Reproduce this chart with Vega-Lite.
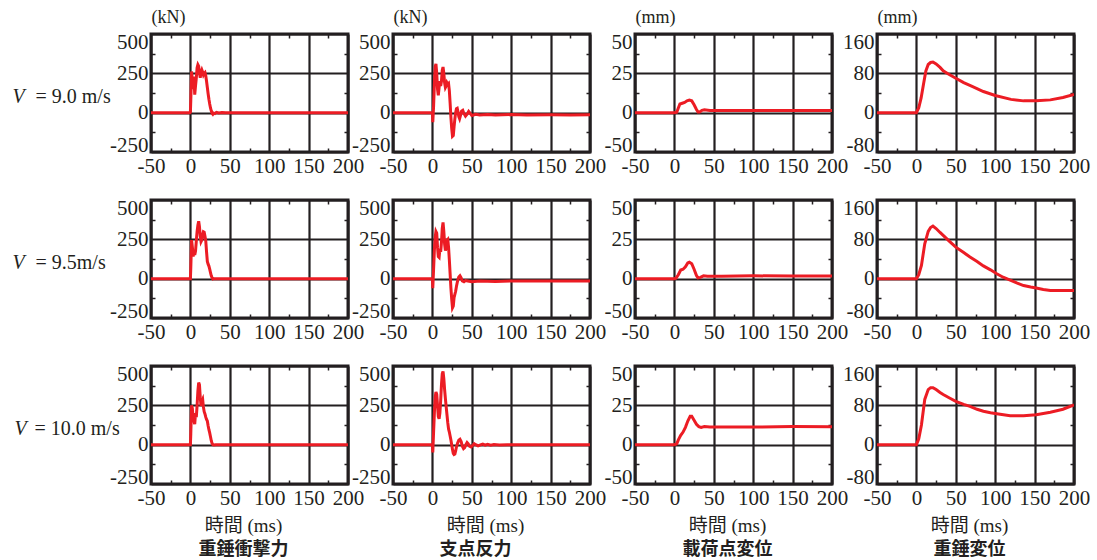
{
  "$schema": "https://vega.github.io/schema/vega-lite/v6.json",
  "padding": {"left": 10, "top": 6, "right": 5, "bottom": 2},
  "background": "white",
  "bounds": "flush",
  "columns": 4,
  "spacing": {"row": 48, "column": 45},
  "config": {
    "view": {"stroke": "#231f20", "strokeWidth": 3},
    "axis": {
      "domain": false,
      "labelFont": "Liberation Serif",
      "labelFontSize": 21,
      "labelColor": "#231f20",
      "labelFlush": false,
      "labelOverlap": false,
      "labelExpr": "'' + datum.value",
      "gridColor": "#231f20",
      "gridWidth": 2.2,
      "gridOpacity": 1,
      "tickColor": "#231f20",
      "tickWidth": 1.5,
      "titleColor": "#231f20",
      "titleFontWeight": "normal"
    },
    "axisY": {"labelFlush": true, "labelFlushOffset": 3},
    "line": {"color": "#ec1c24", "strokeWidth": 3}
  },
  "datasets": {
    "r1c1": [{"t":-50,"v":0},{"t":-0.5,"v":0},{"t":0,"v":3},{"t":0.5,"v":80},{"t":1.5,"v":262},{"t":2.5,"v":200},{"t":3.5,"v":150},{"t":4.5,"v":230},{"t":5.5,"v":115},{"t":6.5,"v":170},{"t":7.5,"v":220},{"t":8.5,"v":285},{"t":9.5,"v":305},{"t":10.5,"v":295},{"t":11.5,"v":250},{"t":12.5,"v":222},{"t":13.5,"v":258},{"t":14.5,"v":272},{"t":15.5,"v":258},{"t":16.5,"v":240},{"t":17.5,"v":250},{"t":18.5,"v":255},{"t":19.5,"v":235},{"t":20.5,"v":200},{"t":21.5,"v":160},{"t":22.5,"v":120},{"t":23.5,"v":85},{"t":24.5,"v":55},{"t":25.5,"v":30},{"t":26.5,"v":12},{"t":27.5,"v":-4},{"t":28.5,"v":-10},{"t":29.5,"v":-3},{"t":31,"v":-6},{"t":33,"v":2},{"t":36,"v":-2},{"t":40,"v":1},{"t":45,"v":0},{"t":200,"v":0}],
    "r1c2": [{"t":-50,"v":0},{"t":0,"v":0},{"t":0.5,"v":-60},{"t":1.5,"v":40},{"t":2.5,"v":180},{"t":3.5,"v":290},{"t":4.5,"v":310},{"t":5.5,"v":250},{"t":6.5,"v":150},{"t":7.5,"v":110},{"t":8.5,"v":160},{"t":9.5,"v":200},{"t":10.5,"v":170},{"t":11.5,"v":200},{"t":12.5,"v":270},{"t":13.5,"v":290},{"t":14.5,"v":250},{"t":15.5,"v":190},{"t":16.5,"v":160},{"t":17.5,"v":170},{"t":18.5,"v":190},{"t":19.5,"v":180},{"t":20.5,"v":185},{"t":21.5,"v":140},{"t":22.5,"v":60},{"t":23.5,"v":-30},{"t":24.5,"v":-100},{"t":25.5,"v":-150},{"t":26.5,"v":-145},{"t":27.5,"v":-90},{"t":28.5,"v":-40},{"t":29.5,"v":0},{"t":30.5,"v":25},{"t":31.5,"v":28},{"t":32.5,"v":5},{"t":33.5,"v":-25},{"t":34.5,"v":-38},{"t":35.5,"v":-20},{"t":37,"v":10},{"t":38.5,"v":15},{"t":40,"v":-5},{"t":42,"v":-22},{"t":44,"v":-10},{"t":46,"v":8},{"t":48,"v":-5},{"t":50,"v":-18},{"t":55,"v":-10},{"t":60,"v":-15},{"t":70,"v":-12},{"t":80,"v":-15},{"t":100,"v":-12},{"t":120,"v":-15},{"t":150,"v":-14},{"t":175,"v":-15},{"t":200,"v":-14}],
    "r1c3": [{"t":-50,"v":0},{"t":0,"v":0},{"t":3,"v":0.3},{"t":5,"v":3},{"t":7,"v":5.5},{"t":10,"v":6},{"t":13,"v":6.5},{"t":16,"v":7.5},{"t":19,"v":8},{"t":22,"v":7.5},{"t":25,"v":5},{"t":28,"v":2},{"t":30,"v":0.5},{"t":32,"v":0.5},{"t":35,"v":1.5},{"t":38,"v":1.8},{"t":45,"v":1.4},{"t":60,"v":1.3},{"t":100,"v":1.3},{"t":150,"v":1.4},{"t":200,"v":1.4}],
    "r1c4": [{"t":-50,"v":0},{"t":0,"v":0},{"t":3,"v":10},{"t":6,"v":30},{"t":9,"v":58},{"t":12,"v":85},{"t":15,"v":98},{"t":18,"v":102},{"t":21,"v":103},{"t":25,"v":99},{"t":30,"v":92},{"t":34,"v":85},{"t":40,"v":79},{"t":50,"v":70},{"t":60,"v":61},{"t":70,"v":54},{"t":85,"v":43},{"t":100,"v":35},{"t":120,"v":27},{"t":136,"v":24},{"t":152,"v":24},{"t":170,"v":26},{"t":186,"v":31},{"t":200,"v":37}],
    "r2c1": [{"t":-50,"v":0},{"t":0,"v":0},{"t":0.5,"v":70},{"t":1.5,"v":245},{"t":2.5,"v":200},{"t":3.5,"v":140},{"t":4.5,"v":175},{"t":5.5,"v":150},{"t":6.5,"v":175},{"t":7.5,"v":240},{"t":8.5,"v":300},{"t":9.5,"v":340},{"t":10.5,"v":365},{"t":11.5,"v":330},{"t":12.5,"v":270},{"t":13.5,"v":235},{"t":14.5,"v":245},{"t":15.5,"v":275},{"t":16.5,"v":298},{"t":17.5,"v":295},{"t":18.5,"v":270},{"t":19.5,"v":240},{"t":20.5,"v":170},{"t":21.5,"v":110},{"t":22.5,"v":92},{"t":23.5,"v":80},{"t":24.5,"v":60},{"t":25.5,"v":38},{"t":26.5,"v":18},{"t":27.5,"v":5},{"t":28.5,"v":-2},{"t":30,"v":0},{"t":200,"v":0}],
    "r2c2": [{"t":-50,"v":0},{"t":0,"v":0},{"t":0.5,"v":-60},{"t":1.5,"v":60},{"t":2.5,"v":180},{"t":3.5,"v":260},{"t":4.5,"v":300},{"t":5.5,"v":290},{"t":6.5,"v":200},{"t":7.5,"v":140},{"t":8.5,"v":135},{"t":9.5,"v":190},{"t":10.5,"v":170},{"t":11.5,"v":230},{"t":12.5,"v":320},{"t":13.5,"v":357},{"t":14.5,"v":300},{"t":15.5,"v":220},{"t":16.5,"v":178},{"t":17.5,"v":200},{"t":18.5,"v":245},{"t":19.5,"v":250},{"t":20.5,"v":200},{"t":21.5,"v":120},{"t":22.5,"v":30},{"t":23.5,"v":-60},{"t":24.5,"v":-130},{"t":25.5,"v":-185},{"t":26.5,"v":-175},{"t":27.5,"v":-120},{"t":28.5,"v":-100},{"t":29.5,"v":-80},{"t":30.5,"v":-50},{"t":31.5,"v":-25},{"t":32.5,"v":-5},{"t":33.5,"v":10},{"t":35,"v":18},{"t":36.5,"v":5},{"t":38,"v":-15},{"t":40,"v":-20},{"t":42,"v":-12},{"t":45,"v":-15},{"t":50,"v":-20},{"t":60,"v":-15},{"t":80,"v":-18},{"t":100,"v":-15},{"t":150,"v":-15},{"t":200,"v":-15}],
    "r2c3": [{"t":-50,"v":0},{"t":0,"v":0},{"t":2,"v":0.3},{"t":5,"v":2.5},{"t":8,"v":5.5},{"t":11,"v":6},{"t":14,"v":7.5},{"t":17,"v":10},{"t":19,"v":10.5},{"t":22,"v":9.5},{"t":25,"v":6},{"t":28,"v":2},{"t":30,"v":0.5},{"t":33,"v":0.8},{"t":37,"v":1.8},{"t":42,"v":1.6},{"t":60,"v":1.6},{"t":100,"v":1.8},{"t":150,"v":1.7},{"t":200,"v":1.7}],
    "r2c4": [{"t":-50,"v":0},{"t":0,"v":0},{"t":3,"v":8},{"t":6.4,"v":27},{"t":10.6,"v":71},{"t":15,"v":96},{"t":18,"v":104},{"t":21,"v":107},{"t":25,"v":102},{"t":30,"v":94},{"t":34,"v":88},{"t":42,"v":76},{"t":50,"v":64},{"t":60,"v":53},{"t":68,"v":44},{"t":77,"v":35},{"t":85,"v":26},{"t":94,"v":18},{"t":102,"v":10},{"t":110,"v":3},{"t":119,"v":-3},{"t":128,"v":-9},{"t":136,"v":-14},{"t":145,"v":-17},{"t":152,"v":-19},{"t":161,"v":-22},{"t":170,"v":-24},{"t":186,"v":-24},{"t":200,"v":-24}],
    "r3c1": [{"t":-50,"v":0},{"t":0,"v":0},{"t":0.5,"v":70},{"t":1.5,"v":250},{"t":2.5,"v":230},{"t":3.5,"v":160},{"t":4.5,"v":150},{"t":5.5,"v":130},{"t":6.5,"v":200},{"t":7.5,"v":175},{"t":8.5,"v":250},{"t":9.5,"v":340},{"t":10.5,"v":395},{"t":11.5,"v":380},{"t":12.5,"v":300},{"t":13.5,"v":245},{"t":14.5,"v":280},{"t":15.5,"v":290},{"t":16.5,"v":240},{"t":17.5,"v":210},{"t":18.5,"v":195},{"t":19.5,"v":175},{"t":20.5,"v":160},{"t":21.5,"v":150},{"t":22.5,"v":120},{"t":23.5,"v":95},{"t":24.5,"v":75},{"t":25.5,"v":50},{"t":26.5,"v":25},{"t":27.5,"v":8},{"t":28.5,"v":0},{"t":30,"v":-2},{"t":32,"v":0},{"t":200,"v":0}],
    "r3c2": [{"t":-50,"v":0},{"t":0,"v":0},{"t":0.5,"v":-50},{"t":1.5,"v":80},{"t":2.5,"v":200},{"t":3.5,"v":300},{"t":4.5,"v":335},{"t":5.5,"v":320},{"t":6.5,"v":250},{"t":7.5,"v":180},{"t":8.5,"v":165},{"t":9.5,"v":200},{"t":10.5,"v":280},{"t":11.5,"v":380},{"t":12.5,"v":450},{"t":13.5,"v":466},{"t":14.5,"v":420},{"t":15.5,"v":350},{"t":16.5,"v":292},{"t":17.5,"v":240},{"t":18.5,"v":190},{"t":19.5,"v":140},{"t":20.5,"v":100},{"t":21.5,"v":80},{"t":22.5,"v":55},{"t":23.5,"v":30},{"t":24.5,"v":0},{"t":25.5,"v":-30},{"t":26.5,"v":-55},{"t":27.5,"v":-63},{"t":28.5,"v":-60},{"t":29.5,"v":-40},{"t":30.5,"v":-15},{"t":32,"v":10},{"t":33.5,"v":28},{"t":35,"v":34},{"t":36.5,"v":20},{"t":38,"v":-10},{"t":39.5,"v":-25},{"t":41,"v":-18},{"t":42.5,"v":0},{"t":44,"v":13},{"t":45.5,"v":5},{"t":47,"v":-10},{"t":49,"v":-15},{"t":51,"v":-5},{"t":53,"v":6},{"t":55,"v":0},{"t":58,"v":-8},{"t":61,"v":-2},{"t":64,"v":4},{"t":67,"v":-3},{"t":70,"v":2},{"t":74,"v":-3},{"t":78,"v":1},{"t":85,"v":-2},{"t":95,"v":0},{"t":200,"v":0}],
    "r3c3": [{"t":-50,"v":0},{"t":0,"v":0},{"t":3,"v":0.5},{"t":5,"v":3},{"t":8,"v":6},{"t":11,"v":8},{"t":14,"v":11},{"t":17,"v":15},{"t":20,"v":18},{"t":22,"v":18},{"t":25,"v":15.5},{"t":28,"v":13},{"t":31,"v":11.5},{"t":34,"v":11},{"t":38,"v":11.5},{"t":45,"v":11.2},{"t":60,"v":11.3},{"t":100,"v":11.2},{"t":150,"v":11.5},{"t":200,"v":11.4}],
    "r3c4": [{"t":-50,"v":0},{"t":0,"v":0},{"t":3,"v":12},{"t":6.4,"v":40},{"t":10.6,"v":92},{"t":15,"v":112},{"t":18,"v":116},{"t":21,"v":116},{"t":25,"v":112},{"t":30,"v":106},{"t":34,"v":102},{"t":42,"v":95},{"t":50,"v":88},{"t":60,"v":82},{"t":68,"v":78},{"t":77,"v":72},{"t":85,"v":68},{"t":94,"v":65},{"t":102,"v":63},{"t":119,"v":59},{"t":136,"v":59},{"t":152,"v":61},{"t":170,"v":66},{"t":186,"v":72},{"t":200,"v":81}]
  },
  "concat": [
    {"width":197,"height":118,"data":{"name":"r1c1"},"resolve":{"axis":{"x":"independent","y":"independent"}},"layer":[
      {"mark":{"type":"line","clip":true},"encoding":{
        "x":{"field":"t","type":"quantitative","scale":{"domain":[-50,200],"nice":false,"zero":false},"axis":{"orient":"bottom","values":[-50,0,50,100,150,200],"grid":true,"ticks":false,"labelPadding":3,"title":null}},
        "y":{"field":"v","type":"quantitative","scale":{"domain":[-250,500],"nice":false,"zero":false},"axis":{"orient":"left","values":[-250,0,250,500],"grid":true,"ticks":false,"labelPadding":3,"title":"= 9.0 m/s","titleAngle":0,"titleAlign":"left","titleBaseline":"middle","titleX":-116,"titleY":62,"titleFont":"Liberation Serif","titleFontSize":20}}}},
      {"mark":{"type":"line","opacity":0},"encoding":{
        "x":{"field":"t","type":"quantitative","axis":{"orient":"top","values":[-25,25,75,125,175],"grid":false,"labels":false,"ticks":true,"tickSize":-4,"title":"(kN)","titleX":0,"titleY":-17,"titleAlign":"left","titleBaseline":"middle","titleFont":"Liberation Serif","titleFontSize":18}},
        "y":{"field":"v","type":"quantitative","axis":{"orient":"right","values":[-125,125,375],"grid":false,"labels":false,"ticks":true,"tickSize":-4,"title":null}}}},
      {"mark":{"type":"line","opacity":0},"encoding":{
        "x":{"field":"t","type":"quantitative","axis":{"orient":"bottom","values":[-25,25,75,125,175],"grid":false,"labels":false,"ticks":true,"tickSize":-4,"title":null}},
        "y":{"field":"v","type":"quantitative","axis":{"orient":"left","values":[-125,125,375],"grid":false,"labels":false,"ticks":true,"tickSize":-4,"title":"V","titleAngle":0,"titleAlign":"left","titleBaseline":"middle","titleX":-139,"titleY":62,"titleFont":"Liberation Serif","titleFontSize":20,"titleFontStyle":"italic"}}}}
    ]},
    {"width":197,"height":118,"data":{"name":"r1c2"},"resolve":{"axis":{"x":"independent","y":"independent"}},"layer":[
      {"mark":{"type":"line","clip":true},"encoding":{
        "x":{"field":"t","type":"quantitative","scale":{"domain":[-50,200],"nice":false,"zero":false},"axis":{"orient":"bottom","values":[-50,0,50,100,150,200],"grid":true,"ticks":false,"labelPadding":3,"title":null}},
        "y":{"field":"v","type":"quantitative","scale":{"domain":[-250,500],"nice":false,"zero":false},"axis":{"orient":"left","values":[-250,0,250,500],"grid":true,"ticks":false,"labelPadding":3,"title":null}}}},
      {"mark":{"type":"line","opacity":0},"encoding":{
        "x":{"field":"t","type":"quantitative","axis":{"orient":"top","values":[-25,25,75,125,175],"grid":false,"labels":false,"ticks":true,"tickSize":-4,"title":"(kN)","titleX":0,"titleY":-17,"titleAlign":"left","titleBaseline":"middle","titleFont":"Liberation Serif","titleFontSize":18}},
        "y":{"field":"v","type":"quantitative","axis":{"orient":"right","values":[-125,125,375],"grid":false,"labels":false,"ticks":true,"tickSize":-4,"title":null}}}},
      {"mark":{"type":"line","opacity":0},"encoding":{
        "x":{"field":"t","type":"quantitative","axis":{"orient":"bottom","values":[-25,25,75,125,175],"grid":false,"labels":false,"ticks":true,"tickSize":-4,"title":null}},
        "y":{"field":"v","type":"quantitative","axis":{"orient":"left","values":[-125,125,375],"grid":false,"labels":false,"ticks":true,"tickSize":-4,"title":null}}}}
    ]},
    {"width":197,"height":118,"data":{"name":"r1c3"},"resolve":{"axis":{"x":"independent","y":"independent"}},"layer":[
      {"mark":{"type":"line","clip":true},"encoding":{
        "x":{"field":"t","type":"quantitative","scale":{"domain":[-50,200],"nice":false,"zero":false},"axis":{"orient":"bottom","values":[-50,0,50,100,150,200],"grid":true,"ticks":false,"labelPadding":3,"title":null}},
        "y":{"field":"v","type":"quantitative","scale":{"domain":[-25,50],"nice":false,"zero":false},"axis":{"orient":"left","values":[-25,0,25,50],"labelExpr":"datum.value == -25 ? '-50' : '' + datum.value","grid":true,"ticks":false,"labelPadding":3,"title":null}}}},
      {"mark":{"type":"line","opacity":0},"encoding":{
        "x":{"field":"t","type":"quantitative","axis":{"orient":"top","values":[-25,25,75,125,175],"grid":false,"labels":false,"ticks":true,"tickSize":-4,"title":"(mm)","titleX":0,"titleY":-17,"titleAlign":"left","titleBaseline":"middle","titleFont":"Liberation Serif","titleFontSize":18}},
        "y":{"field":"v","type":"quantitative","axis":{"orient":"right","values":[-12.5,12.5,37.5],"grid":false,"labels":false,"ticks":true,"tickSize":-4,"title":null}}}},
      {"mark":{"type":"line","opacity":0},"encoding":{
        "x":{"field":"t","type":"quantitative","axis":{"orient":"bottom","values":[-25,25,75,125,175],"grid":false,"labels":false,"ticks":true,"tickSize":-4,"title":null}},
        "y":{"field":"v","type":"quantitative","axis":{"orient":"left","values":[-12.5,12.5,37.5],"grid":false,"labels":false,"ticks":true,"tickSize":-4,"title":null}}}}
    ]},
    {"width":197,"height":118,"data":{"name":"r1c4"},"resolve":{"axis":{"x":"independent","y":"independent"}},"layer":[
      {"mark":{"type":"line","clip":true},"encoding":{
        "x":{"field":"t","type":"quantitative","scale":{"domain":[-50,200],"nice":false,"zero":false},"axis":{"orient":"bottom","values":[-50,0,50,100,150,200],"grid":true,"ticks":false,"labelPadding":3,"title":null}},
        "y":{"field":"v","type":"quantitative","scale":{"domain":[-80,160],"nice":false,"zero":false},"axis":{"orient":"left","values":[-80,0,80,160],"grid":true,"ticks":false,"labelPadding":3,"title":null}}}},
      {"mark":{"type":"line","opacity":0},"encoding":{
        "x":{"field":"t","type":"quantitative","axis":{"orient":"top","values":[-25,25,75,125,175],"grid":false,"labels":false,"ticks":true,"tickSize":-4,"title":"(mm)","titleX":0,"titleY":-17,"titleAlign":"left","titleBaseline":"middle","titleFont":"Liberation Serif","titleFontSize":18}},
        "y":{"field":"v","type":"quantitative","axis":{"orient":"right","values":[-40,40,120],"grid":false,"labels":false,"ticks":true,"tickSize":-4,"title":null}}}},
      {"mark":{"type":"line","opacity":0},"encoding":{
        "x":{"field":"t","type":"quantitative","axis":{"orient":"bottom","values":[-25,25,75,125,175],"grid":false,"labels":false,"ticks":true,"tickSize":-4,"title":null}},
        "y":{"field":"v","type":"quantitative","axis":{"orient":"left","values":[-40,40,120],"grid":false,"labels":false,"ticks":true,"tickSize":-4,"title":null}}}}
    ]},
    {"width":197,"height":118,"data":{"name":"r2c1"},"resolve":{"axis":{"x":"independent","y":"independent"}},"layer":[
      {"mark":{"type":"line","clip":true},"encoding":{
        "x":{"field":"t","type":"quantitative","scale":{"domain":[-50,200],"nice":false,"zero":false},"axis":{"orient":"bottom","values":[-50,0,50,100,150,200],"grid":true,"ticks":false,"labelPadding":3,"title":null}},
        "y":{"field":"v","type":"quantitative","scale":{"domain":[-250,500],"nice":false,"zero":false},"axis":{"orient":"left","values":[-250,0,250,500],"grid":true,"ticks":false,"labelPadding":3,"title":"= 9.5m/s","titleAngle":0,"titleAlign":"left","titleBaseline":"middle","titleX":-116,"titleY":62,"titleFont":"Liberation Serif","titleFontSize":20}}}},
      {"mark":{"type":"line","opacity":0},"encoding":{
        "x":{"field":"t","type":"quantitative","axis":{"orient":"top","values":[-25,25,75,125,175],"grid":false,"labels":false,"ticks":true,"tickSize":-4,"title":null}},
        "y":{"field":"v","type":"quantitative","axis":{"orient":"right","values":[-125,125,375],"grid":false,"labels":false,"ticks":true,"tickSize":-4,"title":null}}}},
      {"mark":{"type":"line","opacity":0},"encoding":{
        "x":{"field":"t","type":"quantitative","axis":{"orient":"bottom","values":[-25,25,75,125,175],"grid":false,"labels":false,"ticks":true,"tickSize":-4,"title":null}},
        "y":{"field":"v","type":"quantitative","axis":{"orient":"left","values":[-125,125,375],"grid":false,"labels":false,"ticks":true,"tickSize":-4,"title":"V","titleAngle":0,"titleAlign":"left","titleBaseline":"middle","titleX":-139,"titleY":62,"titleFont":"Liberation Serif","titleFontSize":20,"titleFontStyle":"italic"}}}}
    ]},
    {"width":197,"height":118,"data":{"name":"r2c2"},"resolve":{"axis":{"x":"independent","y":"independent"}},"layer":[
      {"mark":{"type":"line","clip":true},"encoding":{
        "x":{"field":"t","type":"quantitative","scale":{"domain":[-50,200],"nice":false,"zero":false},"axis":{"orient":"bottom","values":[-50,0,50,100,150,200],"grid":true,"ticks":false,"labelPadding":3,"title":null}},
        "y":{"field":"v","type":"quantitative","scale":{"domain":[-250,500],"nice":false,"zero":false},"axis":{"orient":"left","values":[-250,0,250,500],"grid":true,"ticks":false,"labelPadding":3,"title":null}}}},
      {"mark":{"type":"line","opacity":0},"encoding":{
        "x":{"field":"t","type":"quantitative","axis":{"orient":"top","values":[-25,25,75,125,175],"grid":false,"labels":false,"ticks":true,"tickSize":-4,"title":null}},
        "y":{"field":"v","type":"quantitative","axis":{"orient":"right","values":[-125,125,375],"grid":false,"labels":false,"ticks":true,"tickSize":-4,"title":null}}}},
      {"mark":{"type":"line","opacity":0},"encoding":{
        "x":{"field":"t","type":"quantitative","axis":{"orient":"bottom","values":[-25,25,75,125,175],"grid":false,"labels":false,"ticks":true,"tickSize":-4,"title":null}},
        "y":{"field":"v","type":"quantitative","axis":{"orient":"left","values":[-125,125,375],"grid":false,"labels":false,"ticks":true,"tickSize":-4,"title":null}}}}
    ]},
    {"width":197,"height":118,"data":{"name":"r2c3"},"resolve":{"axis":{"x":"independent","y":"independent"}},"layer":[
      {"mark":{"type":"line","clip":true},"encoding":{
        "x":{"field":"t","type":"quantitative","scale":{"domain":[-50,200],"nice":false,"zero":false},"axis":{"orient":"bottom","values":[-50,0,50,100,150,200],"grid":true,"ticks":false,"labelPadding":3,"title":null}},
        "y":{"field":"v","type":"quantitative","scale":{"domain":[-25,50],"nice":false,"zero":false},"axis":{"orient":"left","values":[-25,0,25,50],"labelExpr":"datum.value == -25 ? '-50' : '' + datum.value","grid":true,"ticks":false,"labelPadding":3,"title":null}}}},
      {"mark":{"type":"line","opacity":0},"encoding":{
        "x":{"field":"t","type":"quantitative","axis":{"orient":"top","values":[-25,25,75,125,175],"grid":false,"labels":false,"ticks":true,"tickSize":-4,"title":null}},
        "y":{"field":"v","type":"quantitative","axis":{"orient":"right","values":[-12.5,12.5,37.5],"grid":false,"labels":false,"ticks":true,"tickSize":-4,"title":null}}}},
      {"mark":{"type":"line","opacity":0},"encoding":{
        "x":{"field":"t","type":"quantitative","axis":{"orient":"bottom","values":[-25,25,75,125,175],"grid":false,"labels":false,"ticks":true,"tickSize":-4,"title":null}},
        "y":{"field":"v","type":"quantitative","axis":{"orient":"left","values":[-12.5,12.5,37.5],"grid":false,"labels":false,"ticks":true,"tickSize":-4,"title":null}}}}
    ]},
    {"width":197,"height":118,"data":{"name":"r2c4"},"resolve":{"axis":{"x":"independent","y":"independent"}},"layer":[
      {"mark":{"type":"line","clip":true},"encoding":{
        "x":{"field":"t","type":"quantitative","scale":{"domain":[-50,200],"nice":false,"zero":false},"axis":{"orient":"bottom","values":[-50,0,50,100,150,200],"grid":true,"ticks":false,"labelPadding":3,"title":null}},
        "y":{"field":"v","type":"quantitative","scale":{"domain":[-80,160],"nice":false,"zero":false},"axis":{"orient":"left","values":[-80,0,80,160],"grid":true,"ticks":false,"labelPadding":3,"title":null}}}},
      {"mark":{"type":"line","opacity":0},"encoding":{
        "x":{"field":"t","type":"quantitative","axis":{"orient":"top","values":[-25,25,75,125,175],"grid":false,"labels":false,"ticks":true,"tickSize":-4,"title":null}},
        "y":{"field":"v","type":"quantitative","axis":{"orient":"right","values":[-40,40,120],"grid":false,"labels":false,"ticks":true,"tickSize":-4,"title":null}}}},
      {"mark":{"type":"line","opacity":0},"encoding":{
        "x":{"field":"t","type":"quantitative","axis":{"orient":"bottom","values":[-25,25,75,125,175],"grid":false,"labels":false,"ticks":true,"tickSize":-4,"title":null}},
        "y":{"field":"v","type":"quantitative","axis":{"orient":"left","values":[-40,40,120],"grid":false,"labels":false,"ticks":true,"tickSize":-4,"title":null}}}}
    ]},
    {"width":197,"height":118,"data":{"name":"r3c1"},"resolve":{"axis":{"x":"independent","y":"independent"}},"layer":[
      {"mark":{"type":"line","clip":true},"encoding":{
        "x":{"field":"t","type":"quantitative","scale":{"domain":[-50,200],"nice":false,"zero":false},"axis":{"orient":"bottom","values":[-50,0,50,100,150,200],"grid":true,"ticks":false,"labelPadding":3,"title":"時間 (ms)","titleX":92,"titleY":41,"titleAlign":"center","titleBaseline":"middle","titleFont":"Liberation Serif, Noto Sans CJK JP","titleFontSize":19}},
        "y":{"field":"v","type":"quantitative","scale":{"domain":[-250,500],"nice":false,"zero":false},"axis":{"orient":"left","values":[-250,0,250,500],"grid":true,"ticks":false,"labelPadding":3,"title":"= 10.0 m/s","titleAngle":0,"titleAlign":"left","titleBaseline":"middle","titleX":-117,"titleY":62,"titleFont":"Liberation Serif","titleFontSize":20}}}},
      {"mark":{"type":"line","opacity":0},"encoding":{
        "x":{"field":"t","type":"quantitative","axis":{"orient":"top","values":[-25,25,75,125,175],"grid":false,"labels":false,"ticks":true,"tickSize":-4,"title":null}},
        "y":{"field":"v","type":"quantitative","axis":{"orient":"right","values":[-125,125,375],"grid":false,"labels":false,"ticks":true,"tickSize":-4,"title":null}}}},
      {"mark":{"type":"line","opacity":0},"encoding":{
        "x":{"field":"t","type":"quantitative","axis":{"orient":"bottom","values":[-25,25,75,125,175],"grid":false,"labels":false,"ticks":true,"tickSize":-4,"title":"重錘衝撃力","titleX":92,"titleY":65,"titleAlign":"center","titleBaseline":"middle","titleFont":"Noto Sans CJK JP","titleFontWeight":"bold","titleFontSize":18}},
        "y":{"field":"v","type":"quantitative","axis":{"orient":"left","values":[-125,125,375],"grid":false,"labels":false,"ticks":true,"tickSize":-4,"title":"V","titleAngle":0,"titleAlign":"left","titleBaseline":"middle","titleX":-137,"titleY":62,"titleFont":"Liberation Serif","titleFontSize":20,"titleFontStyle":"italic"}}}}
    ]},
    {"width":197,"height":118,"data":{"name":"r3c2"},"resolve":{"axis":{"x":"independent","y":"independent"}},"layer":[
      {"mark":{"type":"line","clip":true},"encoding":{
        "x":{"field":"t","type":"quantitative","scale":{"domain":[-50,200],"nice":false,"zero":false},"axis":{"orient":"bottom","values":[-50,0,50,100,150,200],"grid":true,"ticks":false,"labelPadding":3,"title":"時間 (ms)","titleX":92,"titleY":41,"titleAlign":"center","titleBaseline":"middle","titleFont":"Liberation Serif, Noto Sans CJK JP","titleFontSize":19}},
        "y":{"field":"v","type":"quantitative","scale":{"domain":[-250,500],"nice":false,"zero":false},"axis":{"orient":"left","values":[-250,0,250,500],"grid":true,"ticks":false,"labelPadding":3,"title":null}}}},
      {"mark":{"type":"line","opacity":0},"encoding":{
        "x":{"field":"t","type":"quantitative","axis":{"orient":"top","values":[-25,25,75,125,175],"grid":false,"labels":false,"ticks":true,"tickSize":-4,"title":null}},
        "y":{"field":"v","type":"quantitative","axis":{"orient":"right","values":[-125,125,375],"grid":false,"labels":false,"ticks":true,"tickSize":-4,"title":null}}}},
      {"mark":{"type":"line","opacity":0},"encoding":{
        "x":{"field":"t","type":"quantitative","axis":{"orient":"bottom","values":[-25,25,75,125,175],"grid":false,"labels":false,"ticks":true,"tickSize":-4,"title":"支点反力","titleX":82,"titleY":65,"titleAlign":"center","titleBaseline":"middle","titleFont":"Noto Sans CJK JP","titleFontWeight":"bold","titleFontSize":18}},
        "y":{"field":"v","type":"quantitative","axis":{"orient":"left","values":[-125,125,375],"grid":false,"labels":false,"ticks":true,"tickSize":-4,"title":null}}}}
    ]},
    {"width":197,"height":118,"data":{"name":"r3c3"},"resolve":{"axis":{"x":"independent","y":"independent"}},"layer":[
      {"mark":{"type":"line","clip":true},"encoding":{
        "x":{"field":"t","type":"quantitative","scale":{"domain":[-50,200],"nice":false,"zero":false},"axis":{"orient":"bottom","values":[-50,0,50,100,150,200],"grid":true,"ticks":false,"labelPadding":3,"title":"時間 (ms)","titleX":92,"titleY":41,"titleAlign":"center","titleBaseline":"middle","titleFont":"Liberation Serif, Noto Sans CJK JP","titleFontSize":19}},
        "y":{"field":"v","type":"quantitative","scale":{"domain":[-25,50],"nice":false,"zero":false},"axis":{"orient":"left","values":[-25,0,25,50],"labelExpr":"datum.value == -25 ? '-50' : '' + datum.value","grid":true,"ticks":false,"labelPadding":3,"title":null}}}},
      {"mark":{"type":"line","opacity":0},"encoding":{
        "x":{"field":"t","type":"quantitative","axis":{"orient":"top","values":[-25,25,75,125,175],"grid":false,"labels":false,"ticks":true,"tickSize":-4,"title":null}},
        "y":{"field":"v","type":"quantitative","axis":{"orient":"right","values":[-12.5,12.5,37.5],"grid":false,"labels":false,"ticks":true,"tickSize":-4,"title":null}}}},
      {"mark":{"type":"line","opacity":0},"encoding":{
        "x":{"field":"t","type":"quantitative","axis":{"orient":"bottom","values":[-25,25,75,125,175],"grid":false,"labels":false,"ticks":true,"tickSize":-4,"title":"載荷点変位","titleX":92,"titleY":65,"titleAlign":"center","titleBaseline":"middle","titleFont":"Noto Sans CJK JP","titleFontWeight":"bold","titleFontSize":18}},
        "y":{"field":"v","type":"quantitative","axis":{"orient":"left","values":[-12.5,12.5,37.5],"grid":false,"labels":false,"ticks":true,"tickSize":-4,"title":null}}}}
    ]},
    {"width":197,"height":118,"data":{"name":"r3c4"},"resolve":{"axis":{"x":"independent","y":"independent"}},"layer":[
      {"mark":{"type":"line","clip":true},"encoding":{
        "x":{"field":"t","type":"quantitative","scale":{"domain":[-50,200],"nice":false,"zero":false},"axis":{"orient":"bottom","values":[-50,0,50,100,150,200],"grid":true,"ticks":false,"labelPadding":3,"title":"時間 (ms)","titleX":92,"titleY":41,"titleAlign":"center","titleBaseline":"middle","titleFont":"Liberation Serif, Noto Sans CJK JP","titleFontSize":19}},
        "y":{"field":"v","type":"quantitative","scale":{"domain":[-80,160],"nice":false,"zero":false},"axis":{"orient":"left","values":[-80,0,80,160],"grid":true,"ticks":false,"labelPadding":3,"title":null}}}},
      {"mark":{"type":"line","opacity":0},"encoding":{
        "x":{"field":"t","type":"quantitative","axis":{"orient":"top","values":[-25,25,75,125,175],"grid":false,"labels":false,"ticks":true,"tickSize":-4,"title":null}},
        "y":{"field":"v","type":"quantitative","axis":{"orient":"right","values":[-40,40,120],"grid":false,"labels":false,"ticks":true,"tickSize":-4,"title":null}}}},
      {"mark":{"type":"line","opacity":0},"encoding":{
        "x":{"field":"t","type":"quantitative","axis":{"orient":"bottom","values":[-25,25,75,125,175],"grid":false,"labels":false,"ticks":true,"tickSize":-4,"title":"重錘変位","titleX":92,"titleY":65,"titleAlign":"center","titleBaseline":"middle","titleFont":"Noto Sans CJK JP","titleFontWeight":"bold","titleFontSize":18}},
        "y":{"field":"v","type":"quantitative","axis":{"orient":"left","values":[-40,40,120],"grid":false,"labels":false,"ticks":true,"tickSize":-4,"title":null}}}}
    ]}
  ]
}
